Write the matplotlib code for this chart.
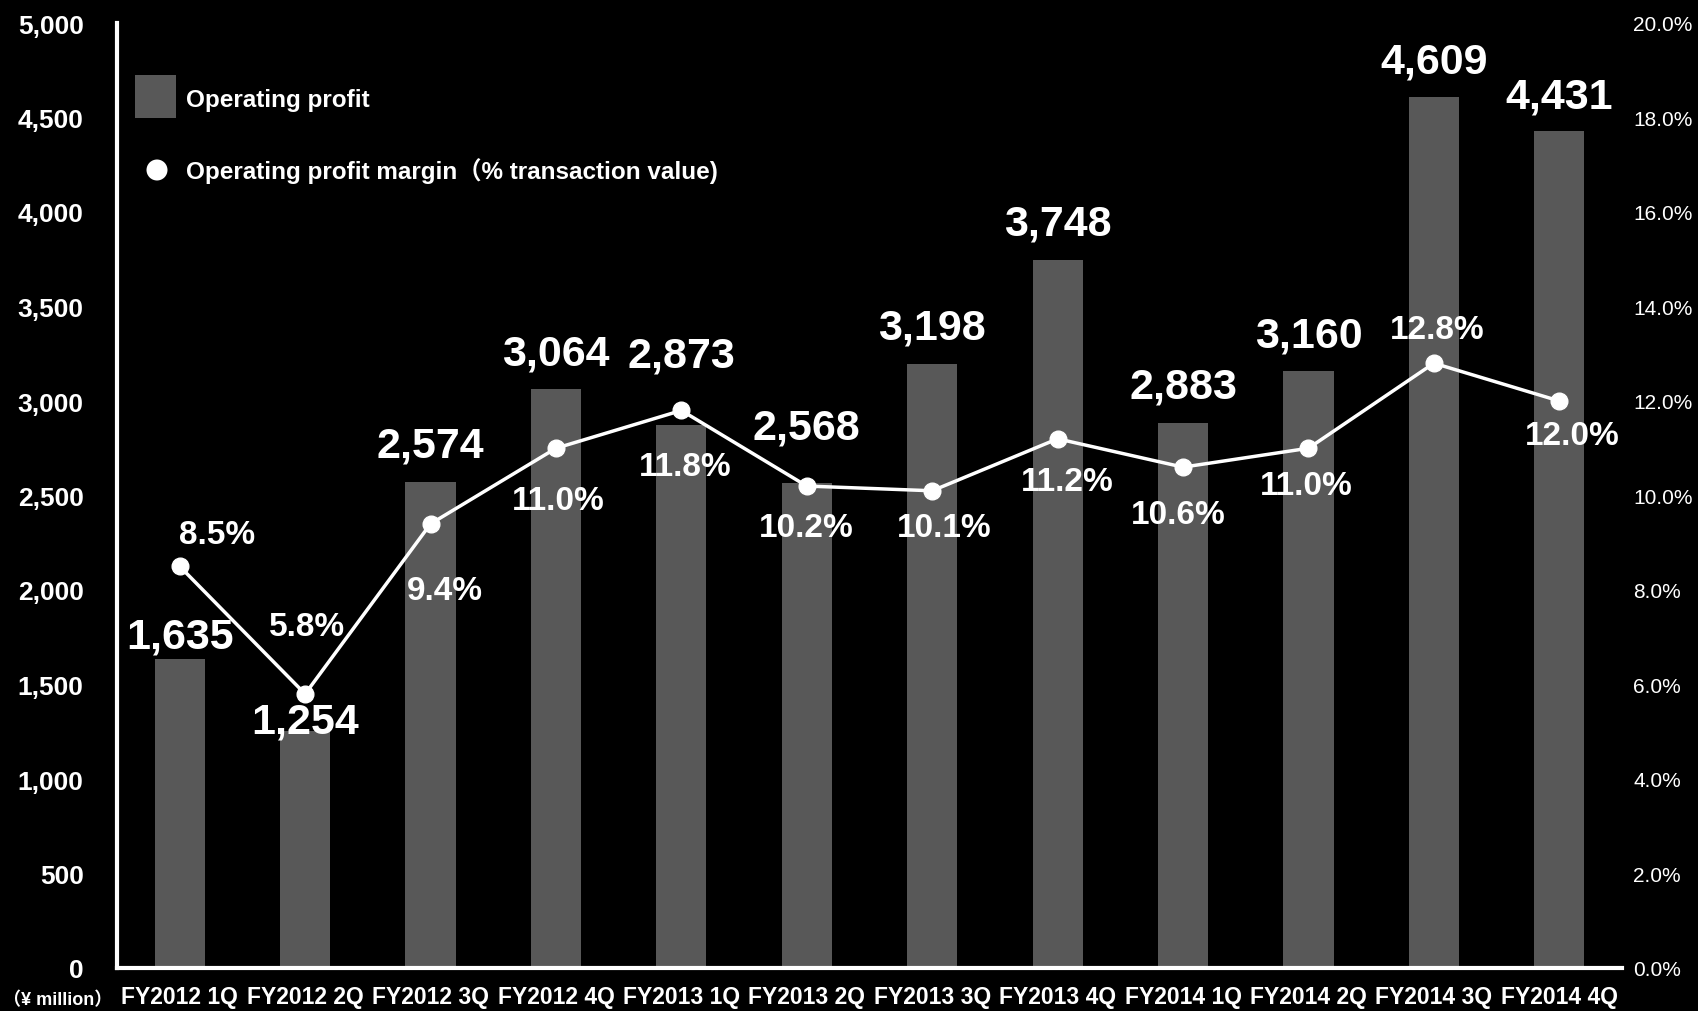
import matplotlib
matplotlib.use("Agg")
import matplotlib.pyplot as plt
from matplotlib.patches import Rectangle, Ellipse

categories = ["FY2012 1Q", "FY2012 2Q", "FY2012 3Q", "FY2012 4Q",
              "FY2013 1Q", "FY2013 2Q", "FY2013 3Q", "FY2013 4Q",
              "FY2014 1Q", "FY2014 2Q", "FY2014 3Q", "FY2014 4Q"]
operating_profit = [1635, 1254, 2574, 3064, 2873, 2568, 3198, 3748, 2883, 3160, 4609, 4431]
profit_margin = [8.5, 5.8, 9.4, 11.0, 11.8, 10.2, 10.1, 11.2, 10.6, 11.0, 12.8, 12.0]
left_ticks = [0, 500, 1000, 1500, 2000, 2500, 3000, 3500, 4000, 4500, 5000]
right_ticks = [0, 2, 4, 6, 8, 10, 12, 14, 16, 18, 20]

# label offsets (pixels) — style/position, not data
bar_label_dy = [22, 9, 36, 35, 70, 55, 36, 36, 37, 35, 35, 34]
pct_label_dx = [37, 2, 14, 2, 4, -1, 12, 10, -5, -2, 3, 13]
pct_label_dy = [32, 67, -67, -52, -56, -41, -37, -43, -47, -37, 34, -35]

BASE = "Liberation Sans"
plt.rcParams['font.family'] = [BASE, 'DejaVu Sans']

W, H = 1698, 1012
fig = plt.figure(figsize=(W / 100, H / 100), dpi=100, facecolor="black")
L, R, B, T = 117, 1622, 969, 24
ax = fig.add_axes([L / W, 1 - B / H, (R - L) / W, (B - T) / H], facecolor="black")
ax2 = ax.twinx()

x = list(range(len(categories)))
ax.bar(x, operating_profit, width=0.4, color="#585858", zorder=2)
ax.set_xlim(-0.5, len(categories) - 0.5)
ax.set_ylim(0, 5000)
ax.set_yticks(left_ticks)
ax.set_yticklabels([f"{v:,}" for v in left_ticks], fontsize=19, fontweight="bold", color="white")
ax.set_xticks(x)
ax.set_xticklabels(categories, fontsize=16.5, fontweight="bold", color="white")
ax.tick_params(axis="y", length=0, pad=24)
ax.tick_params(axis="x", length=0, pad=12)
for s in ["top", "right"]:
    ax.spines[s].set_visible(False)
for s in ["left", "bottom"]:
    ax.spines[s].set_color("white")
    ax.spines[s].set_linewidth(3)

ax2.plot(x, profit_margin, color="white", lw=2.5, marker="o", markersize=12,
         markerfacecolor="white", markeredgecolor="white", zorder=3)
ax2.set_ylim(0, 20)
ax2.set_yticks(right_ticks)
ax2.set_yticklabels([f"{v:.1f}%" for v in right_ticks], fontsize=15, color="white")
ax2.tick_params(axis="y", length=0, pad=8)
for s in ["top", "right", "left", "bottom"]:
    ax2.spines[s].set_visible(False)

for i, v in enumerate(operating_profit):
    ax.annotate(f"{v:,}", (i, v), xytext=(0, bar_label_dy[i]), textcoords="offset pixels",
                ha="center", va="center", fontsize=31, fontweight="bold", color="white", zorder=5)
for i, v in enumerate(profit_margin):
    ax2.annotate(f"{v:.1f}%", (i, v), xytext=(pct_label_dx[i], pct_label_dy[i]),
                 textcoords="offset pixels", ha="center", va="center", fontsize=24,
                 fontweight="bold", color="white", zorder=5)

# legend
fig.patches.append(Rectangle((135 / W, 1 - 119 / H), 41 / W, 43 / H, transform=fig.transFigure,
                             facecolor="#585858", edgecolor="none"))
fig.patches.append(Ellipse((157 / W, 1 - 171 / H), 21 / W, 21 / H, transform=fig.transFigure,
                           facecolor="white", edgecolor="none"))
leg_fs = 17.5
fig.text(186 / W, 1 - 100 / H, "Operating profit", fontsize=leg_fs, fontweight="bold",
         color="white", va="center", ha="left")
fig.text(186 / W, 1 - 171 / H, "Operating profit margin（% transaction value)", fontsize=leg_fs,
         fontweight="bold", color="white", va="center", ha="left",
         family=[BASE, "Noto Sans CJK JP"])
fig.text(3 / W, 1 - 1001 / H, "（¥ million）", fontsize=13, fontweight="bold", color="white",
         va="center", ha="left", family=[BASE, "Noto Sans CJK JP"])

fig.savefig("out.png", dpi=100, facecolor="black")
